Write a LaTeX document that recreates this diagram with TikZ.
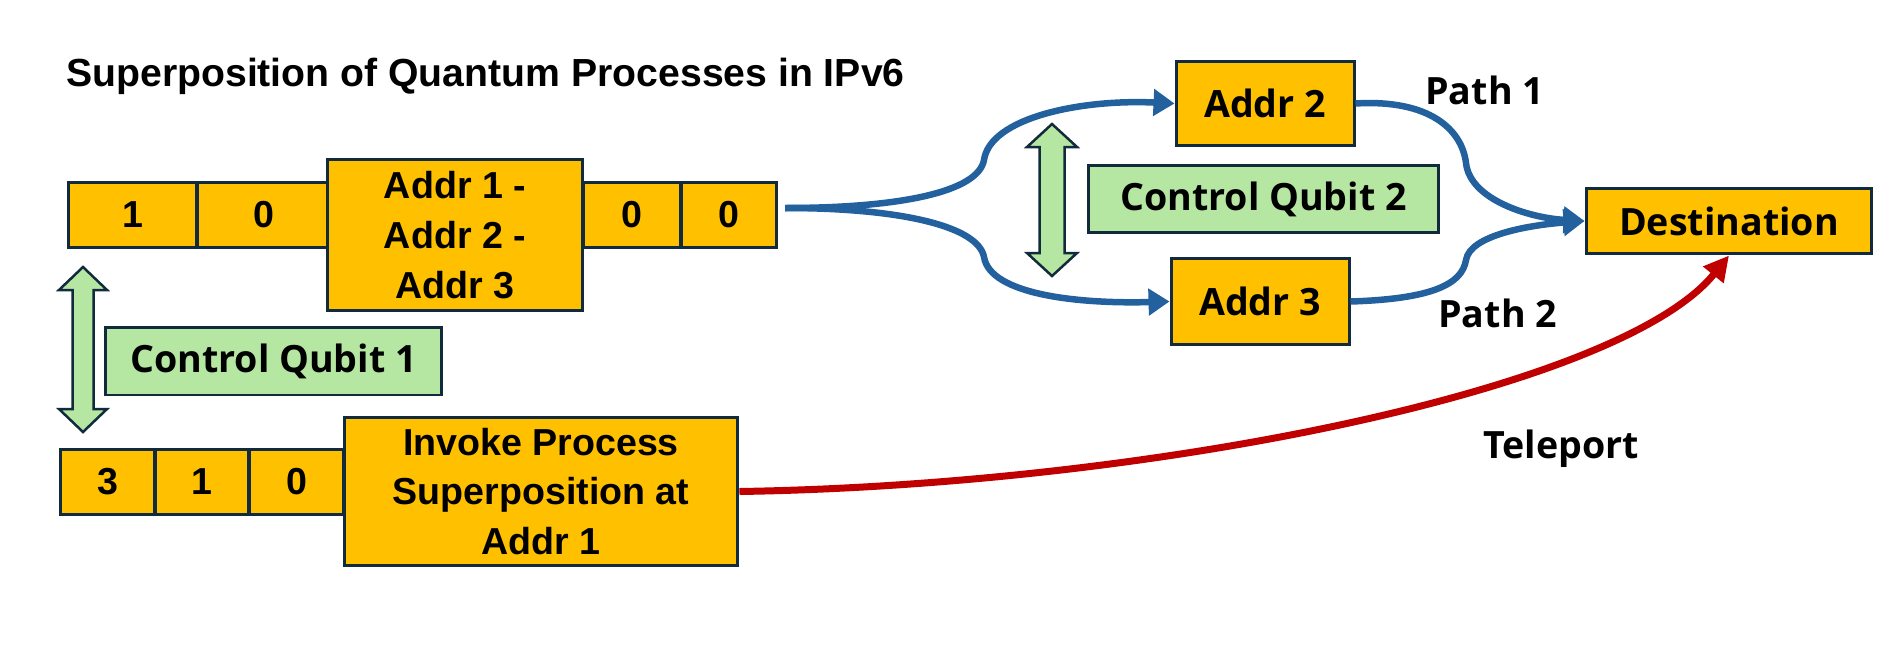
\documentclass[tikz,border=0pt]{standalone}
\usepackage{fontspec}
\setmainfont{Liberation Sans}
\newfontfamily\qfont{Open Sans}
\usetikzlibrary{arrows.meta}
\definecolor{cellyellow}{HTML}{FFC000}
\definecolor{cellline}{HTML}{112B3C}
\definecolor{qgreen}{HTML}{B5E6A2}
\definecolor{pathblue}{HTML}{23609E}
\definecolor{telered}{HTML}{C00000}
\tikzset{
	cell/.style={draw=cellline,line width=0.06cm,fill=cellyellow,inner sep=0pt,
		minimum height=1.32cm,align=center,
		font=\bfseries\fontsize{21.4}{28.4}\selectfont},
	qubitbox/.style={draw=cellline,line width=0.06cm,fill=qgreen,inner sep=0pt,
		minimum height=1.36cm,font=\qfont\bfseries\fontsize{21.4}{26}\selectfont},
	qarrow/.style={draw=cellline,line width=0.05cm,fill=qgreen},
	route/.style={draw=pathblue,line width=0.13cm,-{Triangle[length=0.42cm,width=0.52cm]}},
	tele/.style={draw=telered,line width=0.14cm,-{Triangle[length=0.5cm,width=0.5cm]}},
	lbl/.style={inner sep=0pt,anchor=base west,font=\qfont\bfseries\fontsize{21.4}{26}\selectfont}
}
\begin{document}
\begin{tikzpicture}[x=0.02cm,y=-0.02cm]
		\useasboundingbox (0,0) rectangle (1886,646);
		\node[inner sep=0pt,anchor=base west,font=\bfseries\fontsize{22.3}{26}\selectfont] (title) at (66,86) {Superposition of Quantum Processes in IPv6};
		% header with the three addresses
		\node[cell,minimum width=2.58cm] (h1) at (132.5,215) {1};
		\node[cell,minimum width=2.66cm] (h2) at (263.5,215) {0};
		\node[cell,minimum width=1.96cm] (h4) at (632,215) {0};
		\node[cell,minimum width=1.9cm] (h5) at (728.5,215) {0};
		\node[cell,minimum width=5.12cm,minimum height=3.04cm] (h3) at (455,235) {Addr 1 -\\Addr 2 -\\Addr 3};
		% header that invokes the process
		\node[cell,minimum width=1.9cm,minimum height=1.3cm] (g1) at (107.5,481.5) {3};
		\node[cell,minimum width=1.88cm,minimum height=1.3cm] (g2) at (202,481.5) {1};
		\node[cell,minimum width=1.9cm,minimum height=1.3cm] (g3) at (296.5,481.5) {0};
		\node[cell,minimum width=7.88cm,minimum height=2.98cm] (inv) at (541,491.5) {Invoke Process\\Superposition at\\Addr 1};
		% control qubits
		\node[qubitbox,minimum width=6.74cm] (cq1) at (273.5,361) {Control Qubit 1};
		\node[qubitbox,minimum width=7.02cm] (cq2) at (1263.5,199) {Control Qubit 2};
		\draw[qarrow] (83,267) -- (107,290) -- (93.5,290) -- (93.5,409) -- (107,409) -- (83,432)
			-- (59,409) -- (72.5,409) -- (72.5,290) -- (59,290) -- cycle;
		\draw[qarrow] (1052,124) -- (1077,147) -- (1064.5,147) -- (1064.5,253) -- (1077,253) -- (1052,276)
			-- (1027,253) -- (1039.5,253) -- (1039.5,147) -- (1027,147) -- cycle;
		% addresses and destination
		\node[cell,minimum width=3.56cm,minimum height=1.7cm,font=\qfont\bfseries\fontsize{21.4}{26}\selectfont] (a2) at (1265,103.5) {Addr 2};
		\node[cell,minimum width=3.56cm,minimum height=1.74cm,font=\qfont\bfseries\fontsize{21.4}{26}\selectfont] (a3) at (1260,301.5) {Addr 3};
		\node[cell,minimum width=5.72cm,font=\qfont\bfseries\fontsize{21.4}{26}\selectfont] (dest) at (1729,221) {Destination};
		\coordinate (fork) at (785,208);
		\draw[route] (fork) .. controls (900,208) and (978,192) .. (984,160)
			.. controls (990,118) and (1080,99) .. (a2.west);
		\draw[route] (fork) .. controls (900,208) and (978,226) .. (984,257)
			.. controls (990,295) and (1080,304) .. (a3.west);
		\draw[route] (a2.east) .. controls (1430,99) and (1462,130) .. (1466,163)
			.. controls (1470,200) and (1530,218) .. (dest.west);
		\draw[route] (a3.east) .. controls (1430,299) and (1462,285) .. (1466,260)
			.. controls (1470,235) and (1530,225) .. (dest.west);
		\draw[tele] (inv.east) .. controls (1150,485) and (1620,390) .. (dest.south);
		\node[lbl] (p1) at (1425,104) {Path 1};
		\node[lbl] (p2) at (1438,327) {Path 2};
		\node[lbl] (tp) at (1483,458) {Teleport};
	\end{tikzpicture}
\end{document}
